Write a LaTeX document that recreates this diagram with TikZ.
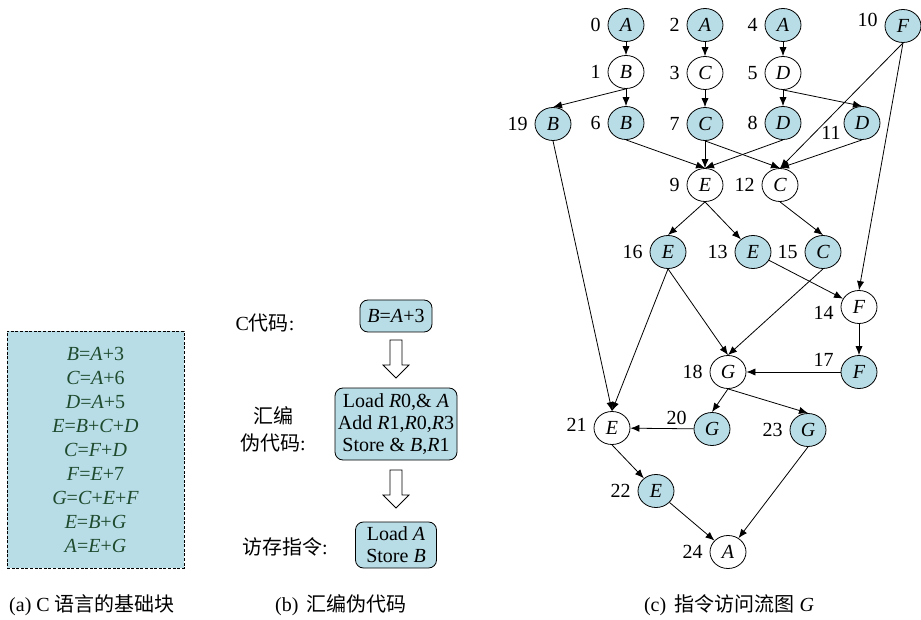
\documentclass[tikz,border=0pt]{standalone}
\usepackage{fontspec}
\setmainfont{Liberation Serif}
\newfontfamily\cjk{Noto Sans CJK SC}
\usetikzlibrary{arrows.meta,positioning,shapes}

\definecolor{cellblue}{RGB}{184,221,230}
\definecolor{codegreen}{RGB}{30,74,46}

\tikzset{
  gnode/.style={ellipse, draw, thin, minimum width=18pt, minimum height=16.5pt, inner sep=0pt, font=\itshape},
  hot/.style={gnode, fill=cellblue},
  cold/.style={gnode, fill=white},
  flow/.style={->, thin},
  every label/.style={font=\upshape},
  codebox/.style={rounded corners=4pt, draw, thin, fill=cellblue, align=center, inner sep=0pt},
  hollow/.style={draw, thin, fill=white},
}

\begin{document}
\begin{tikzpicture}[x=0.5pt, y=-0.5pt, >={Latex[length=4.5pt,width=3.6pt]}]
  \useasboundingbox (0,0) rectangle (921,620);

  % (a) basic block
  \node[draw, thin, dash pattern=on 1.5pt off 0.8pt, fill=cellblue, text=codegreen,
        minimum width=88.5pt, minimum height=118.5pt, align=center,
        font=\fontsize{10}{12}\selectfont] (blk) at (95.5,449.5)
    {\textit{B}=\textit{A}+3\\ \textit{C}=\textit{A}+6\\ \textit{D}=\textit{A}+5\\
     \textit{E}=\textit{B}+\textit{C}+\textit{D}\\ \textit{C}=\textit{F}+\textit{D}\\
     \textit{F}=\textit{E}+7\\ \textit{G}=\textit{C}+\textit{E}+\textit{F}\\
     \textit{E}=\textit{B}+\textit{G}\\ \textit{A}=\textit{E}+\textit{G}};
  \node (capa) at (92,605) {(a) C {\cjk 语言的基础块}};

  % (b) pseudo assembly
  \node[codebox, minimum width=36pt, minimum height=16pt] (csrc) at (396,316) {\textit{B}=\textit{A}+3};
  \node[codebox, minimum width=61pt, minimum height=36pt, font=\fontsize{10}{11}\selectfont] (asm) at (396,424)
    {Load \textit{R}0,\& \textit{A}\\ Add \textit{R}1,\textit{R}0,\textit{R}3\\ Store \& \textit{B},\textit{R}1};
  \node[codebox, minimum width=40.5pt, minimum height=23pt, font=\fontsize{10}{11}\selectfont] (mem) at (396,545)
    {Load \textit{A}\\ Store \textit{B}};
  \foreach \y in {340,470}
    \draw[hollow] (390,\y) -- (402,\y) -- (402,\y+25) -- (409,\y+25) -- (396,\y+38)
      -- (383,\y+25) -- (390,\y+25) -- cycle;
  \node (lcsrc) at (265,323) {C{\cjk 代码}:};
  \node[align=center, font=\fontsize{10}{13.5}\selectfont] (lasm) at (273,429) {{\cjk 汇编}\\{\cjk 伪代码}:};
  \node (lmem) at (285,547) {{\cjk 访存指令}:};
  \node (capb) at (341,605) {(b)\, {\cjk 汇编伪代码}};

  % (c) access flow graph
  \node[hot, label=left:0] (n0) at (626,25) {A};
  \node[hot, label=left:2] (n2) at (705,25) {A};
  \node[hot, label=left:4] (n4) at (783,25) {A};
  \node[hot, label={[yshift=3pt]left:10}] (n10) at (903,26) {F};
  \node[cold, label=left:1] (n1) at (626,72) {B};
  \node[cold, label=left:3] (n3) at (705,73) {C};
  \node[cold, label=left:5] (n5) at (783,73) {D};
  \node[hot, label=left:19] (n19) at (553,124) {B};
  \node[hot, label=left:6] (n6) at (626,123) {B};
  \node[hot, label=left:7] (n7) at (705,124) {C};
  \node[hot, label=left:8] (n8) at (783,123) {D};
  \node[hot, label={[xshift=2pt, yshift=-5pt]left:11}] (n11) at (862,123) {D};
  \node[cold, label=left:9] (n9) at (705,185) {E};
  \node[cold, label=left:12] (n12) at (780,185) {C};
  \node[hot, label=left:16] (n16) at (668,252) {E};
  \node[hot, label=left:13] (n13) at (753,252) {E};
  \node[hot, label=left:15] (n15) at (823,252) {C};
  \node[cold, label={[yshift=-3pt]left:14}] (n14) at (859,307) {F};
  \node[cold, label=left:18] (n18) at (728,372) {G};
  \node[hot, label={[yshift=6pt]left:17}] (n17) at (859,372) {F};
  \node[cold, label={[yshift=1.5pt]left:21}] (n21) at (612,428) {E};
  \node[hot, label={[yshift=5.5pt]left:20}] (n20) at (712,429) {G};
  \node[hot, label=left:23] (n23) at (808,430) {G};
  \node[hot, label=left:22] (n22) at (656,491) {E};
  \node[cold, label=left:24] (n24) at (728,552) {A};

  \foreach \a/\b in {0/1,2/3,4/5,1/19,1/6,3/7,5/8,5/11,6/9,7/9,8/9,7/12,11/12,10/12,
                     10/14,9/16,12/15,16/18,15/18,16/21,19/21,14/17,18/20,18/23}
    \draw[flow] (n\a.south) -- (n\b.north);
  \draw[flow] (n9.south) -- (n13);
  \draw[flow] (n13) -- (n14);
  \draw[flow] (n17) -- (n18);
  \draw[flow] (n20) -- (n21);
  \draw[flow] (n21.south) -- (n22);
  \draw[flow] (n22) -- (n24);
  \draw[flow] (n23.south) -- (n24);

  \node (capc) at (729,605) {(c)\, {\cjk 指令访问流图} \textit{G}};
\end{tikzpicture}
\end{document}
